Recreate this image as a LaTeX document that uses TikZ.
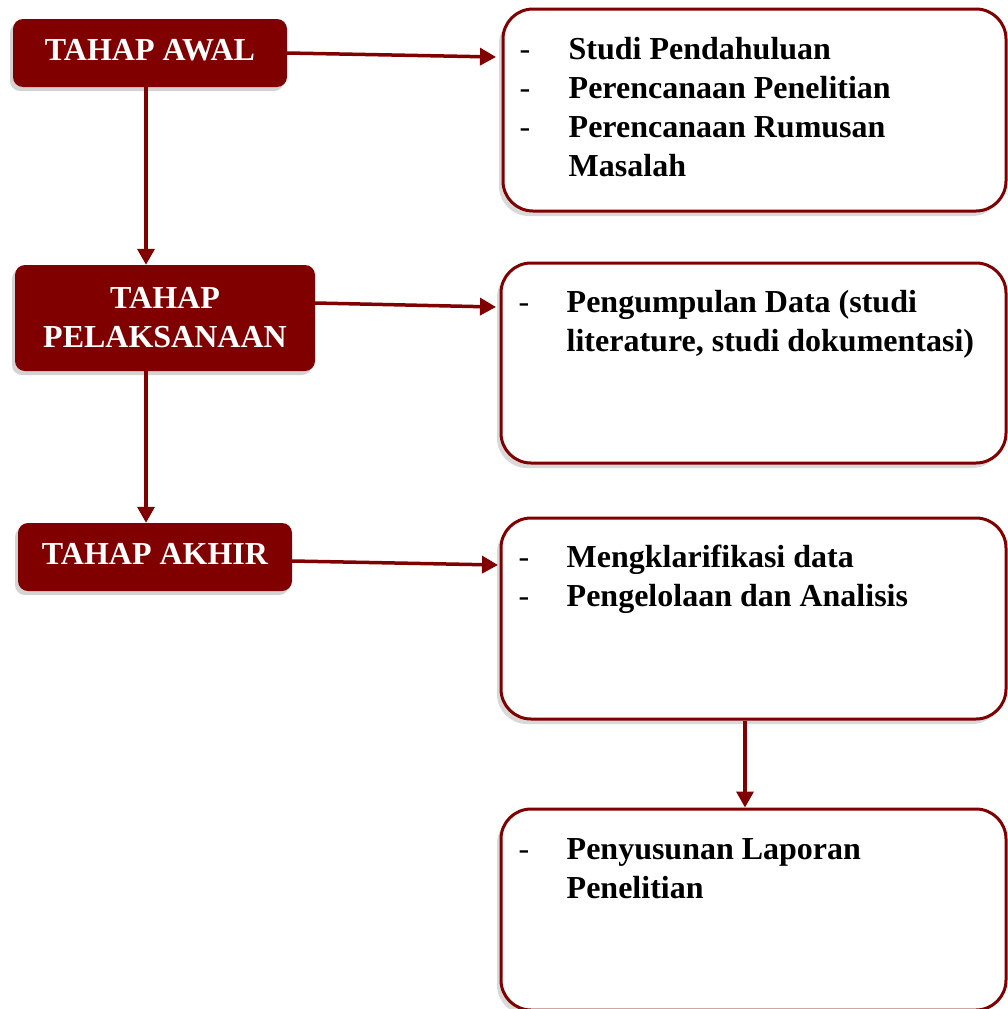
\documentclass[tikz,border=0pt]{standalone}
\usepackage{fontspec}
\setmainfont{Liberation Serif}
\usepackage{xcolor}
\usepackage{tikz}
\usetikzlibrary{shapes,arrows.meta,positioning,calc,shadows}
\definecolor{tahapred}{RGB}{128,0,0}
\newcommand{\strip}{\textmd{-}}

\begin{document}
\begin{tikzpicture}[x=1pt,y=-1pt,
  tahap/.style={fill=tahapred, text=white, rounded corners=10pt, align=center,
    font=\fontsize{32}{39}\selectfont\bfseries,
    drop shadow={shadow xshift=-3pt,shadow yshift=-4pt,opacity=.35}},
  kotak/.style={draw=tahapred, line width=3pt, fill=white, rounded corners=30pt,
    minimum width=505pt, minimum height=201pt,
    drop shadow={shadow xshift=-4pt,shadow yshift=-5pt,opacity=.3}},
  isi/.style={inner sep=0pt, font=\fontsize{32}{39}\selectfont\bfseries},
  panah/.style={draw=tahapred, line width=3.5pt, -{Triangle[width=17pt,length=16pt]}}]
\useasboundingbox (0,0) rectangle (1008,1009);

% tahapan (kiri)
\node[tahap, minimum width=274pt, minimum height=68pt, text depth=6pt] (awal) at (150,53) {TAHAP AWAL};
\node[tahap, minimum width=300pt, minimum height=106pt] (pelaksanaan) at (165,318) {TAHAP\\PELAKSANAAN};
\node[tahap, minimum width=274pt, minimum height=68pt, text depth=6pt] (akhir) at (155,557) {TAHAP AKHIR};

% kegiatan (kanan)
\node[kotak, minimum width=503pt, minimum height=202pt] (kegiatanawal) at (754.5,110) {};
\node[kotak, minimum height=200pt] (kegiatanpelaksanaan) at (753.5,363) {};
\node[kotak] (kegiatanakhir) at (753.5,618.5) {};
\node[kotak] (laporan) at (753.5,909.5) {};

\node[isi, below right=24pt and 18pt of kegiatanawal.north west] (isiawal) {%
  \begin{tabular}{@{}p{49pt}@{}l@{}}
  \strip & Studi Pendahuluan\\
  \strip & Perencanaan Penelitian\\
  \strip & Perencanaan Rumusan\\
    & Masalah
  \end{tabular}};
\node[isi, below right=23pt and 19pt of kegiatanpelaksanaan.north west] (isipelaksanaan) {%
  \begin{tabular}{@{}p{48pt}@{}l@{}}
  \strip & Pengumpulan Data (studi\\
    & literature, studi dokumentasi)
  \end{tabular}};
\node[isi, below right=23pt and 19pt of kegiatanakhir.north west] (isiakhir) {%
  \begin{tabular}{@{}p{48pt}@{}l@{}}
  \strip & Mengklarifikasi data\\
  \strip & Pengelolaan dan Analisis
  \end{tabular}};
\node[isi, below right=24pt and 19pt of laporan.north west] (isilaporan) {%
  \begin{tabular}{@{}p{48pt}@{}l@{}}
  \strip & Penyusunan Laporan\\
    & Penelitian
  \end{tabular}};

% panah
\coordinate (garis) at (146,0);
\coordinate (garislaporan) at (745,0);
\coordinate (ujungawal) at (496,57);
\coordinate (ujungpelaksanaan) at (496,307);
\coordinate (ujungakhir) at (498,565);
\draw[panah] (awal.south -| garis) -- (pelaksanaan.north -| garis);
\draw[panah] (pelaksanaan.south -| garis) -- (akhir.north -| garis);
\draw[panah] (awal.east) -- (ujungawal);
\draw[panah] ([yshift=15pt]pelaksanaan.east) -- (ujungpelaksanaan);
\draw[panah] ([yshift=-4pt]akhir.east) -- (ujungakhir);
\draw[panah] (kegiatanakhir.south -| garislaporan) -- (laporan.north -| garislaporan);
\end{tikzpicture}
\end{document}
